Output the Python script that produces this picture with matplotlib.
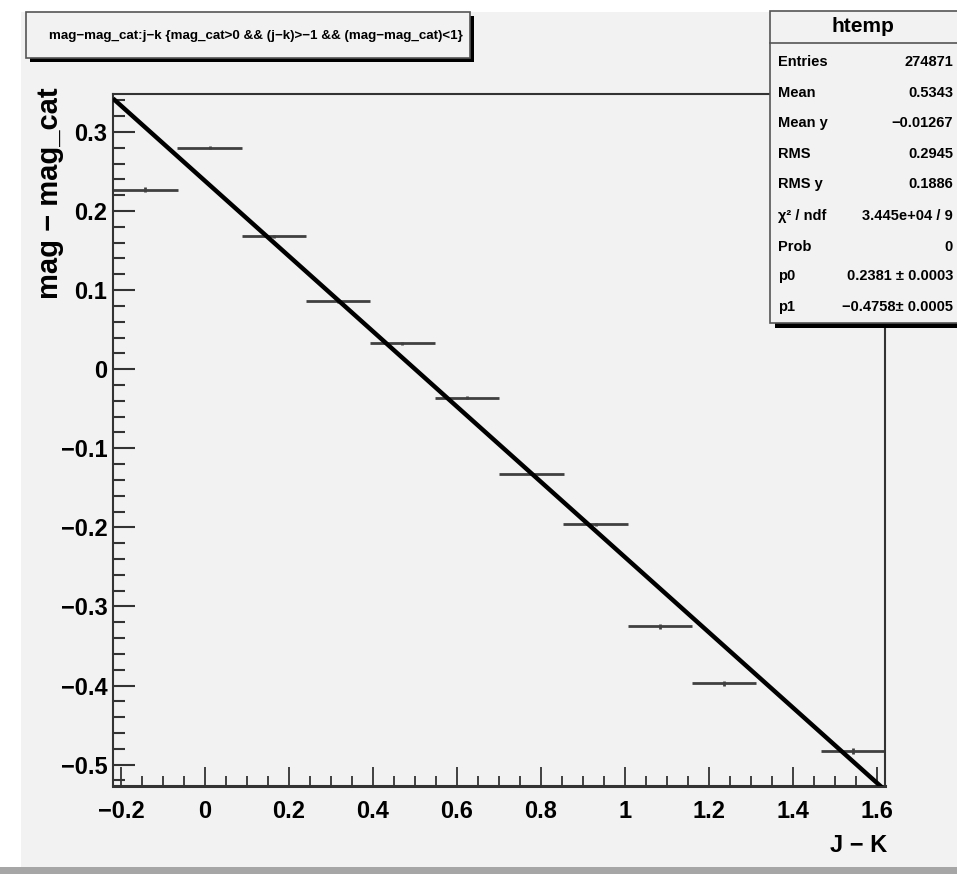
import matplotlib
matplotlib.use("Agg")
import matplotlib.pyplot as plt
import numpy as np
from matplotlib.patches import Rectangle
from matplotlib.ticker import FuncFormatter, MultipleLocator

plt.rcParams["font.family"] = ["Liberation Sans", "DejaVu Sans"]
plt.rcParams["font.weight"] = "bold"

W, H = 957, 874

# profile histogram of mag - mag_cat vs J - K (12 bins)
bin_centers = [-0.142, 0.011, 0.164, 0.317, 0.470, 0.624,
               0.777, 0.930, 1.083, 1.236, 1.390, 1.543]
bin_means = [0.227, 0.280, 0.168, 0.086, 0.033, -0.036,
             -0.132, -0.196, -0.325, -0.397, np.nan, -0.483]
bin_errors = [0.003, 0.002, 0.002, 0.002, 0.002, 0.002,
              0.002, 0.002, 0.003, 0.003, 0.003, 0.004]
bin_width = 0.1532

x_range = (-0.219, 1.619)
y_range = (-0.527, 0.348)

# linear fit pol1
p0, p1 = 0.2381, -0.4758

title = "mag\u2212mag_cat:j\u2212k {mag_cat>0 && (j\u2212k)>\u22121 && (mag\u2212mag_cat)<1}"

stat_labels = ["Entries", "Mean", "Mean y", "RMS", "RMS y",
               "\u03c7\u00b2 / ndf", "Prob", "p0", "p1"]
stat_values = ["274871", "0.5343", "\u22120.01267", "0.2945", "0.1886",
               "3.445e+04 / 9", "0", "0.2381 \u00b1 0.0003", "\u22120.4758\u00b1 0.0005"]

BG = "#f2f2f2"


def fx(px):
    return px / W


def fy(py):
    return 1 - py / H


def tick_fmt(v, pos):
    v = round(v, 6)
    if v == 0:
        return "0"
    return f"{v:g}".replace("-", "\u2212")


fig = plt.figure(figsize=(W / 100, H / 100), dpi=100)
fig.patch.set_facecolor("white")

# canvas pad
fig.patches.append(Rectangle((fx(21), fy(868)), fx(W) - fx(21), fy(12) - fy(868),
                             transform=fig.transFigure, facecolor=BG,
                             edgecolor="none", zorder=-2))
fig.patches.append(Rectangle((fx(0), fy(874)), 1, fy(867) - fy(874),
                             transform=fig.transFigure, facecolor="#a6a6a6",
                             edgecolor="none", zorder=-2))

ax = fig.add_axes([fx(113), fy(786), fx(885) - fx(113), fy(94) - fy(786)])
ax.set_facecolor(BG)

ax.errorbar(bin_centers, bin_means, xerr=bin_width / 2, yerr=bin_errors,
            fmt="none", ecolor="#404040", elinewidth=2, capsize=0, zorder=2)

fit_x = np.array(x_range)
ax.plot(fit_x, p0 + p1 * fit_x, color="black", linewidth=3.2,
        solid_capstyle="butt", zorder=3)

ax.set_xlim(*x_range)
ax.set_ylim(*y_range)

for side in ["left", "bottom", "top", "right"]:
    ax.spines[side].set_color("#333333")
    ax.spines[side].set_linewidth(1.5)
ax.spines["bottom"].set_linewidth(2.2)

ax.xaxis.set_major_locator(MultipleLocator(0.2))
ax.xaxis.set_minor_locator(MultipleLocator(0.05))
ax.yaxis.set_major_locator(MultipleLocator(0.1))
ax.yaxis.set_minor_locator(MultipleLocator(0.02))
ax.xaxis.set_major_formatter(FuncFormatter(tick_fmt))
ax.yaxis.set_major_formatter(FuncFormatter(tick_fmt))
ax.tick_params(axis="x", which="major", direction="in", length=14, width=1.3,
               color="#333333", labelsize=17, pad=10)
ax.tick_params(axis="x", which="minor", direction="in", length=7, width=1.3,
               color="#333333")
ax.tick_params(axis="y", which="major", direction="in", length=16, width=1.5,
               color="#333333", labelsize=17, pad=4)
ax.tick_params(axis="y", which="minor", direction="in", length=8.5, width=1.5,
               color="#333333")

fig.text(fx(887), fy(845), "J \u2212 K", ha="right", va="center",
         fontsize=17, fontweight="bold")
fig.text(fx(50), fy(87), "mag \u2212 mag_cat", ha="center", va="top",
         rotation=90, fontsize=21, fontweight="bold")

# title box with shadow
fig.patches.append(Rectangle((fx(30), fy(62)), fx(474) - fx(30), fy(16) - fy(62),
                             transform=fig.transFigure, facecolor="black",
                             edgecolor="none", zorder=5))
fig.patches.append(Rectangle((fx(26), fy(58)), fx(470) - fx(26), fy(12) - fy(58),
                             transform=fig.transFigure, facecolor=BG,
                             edgecolor="#555555", linewidth=1.2, zorder=6))
fig.text(fx(256), fy(36), title, ha="center", va="center",
         fontsize=9.6, fontweight="bold", zorder=7)

# stats box with shadow
fig.patches.append(Rectangle((fx(775), fy(328)), fx(980) - fx(775), fy(15) - fy(328),
                             transform=fig.transFigure, facecolor="black",
                             edgecolor="none", zorder=5))
fig.patches.append(Rectangle((fx(770), fy(323)), fx(975) - fx(770), fy(11) - fy(323),
                             transform=fig.transFigure, facecolor=BG,
                             edgecolor="#555555", linewidth=1.2, zorder=6))
fig.lines.append(plt.Line2D([fx(770), fx(957)], [fy(43), fy(43)],
                            transform=fig.transFigure, color="#555555",
                            linewidth=1.2, zorder=7))
fig.text(fx(863), fy(26), "htemp", ha="center", va="center",
         fontsize=15, fontweight="bold", zorder=7)
row_y = [62, 93, 123, 154, 184, 216, 247, 276, 307]
for label, value, y in zip(stat_labels, stat_values, row_y):
    fig.text(fx(778), fy(y), label, ha="left", va="center",
             fontsize=10.5, fontweight="bold", zorder=7)
    fig.text(fx(953), fy(y), value, ha="right", va="center",
             fontsize=10.5, fontweight="bold", zorder=7)

fig.savefig("out.png", dpi=100, facecolor=fig.get_facecolor())
